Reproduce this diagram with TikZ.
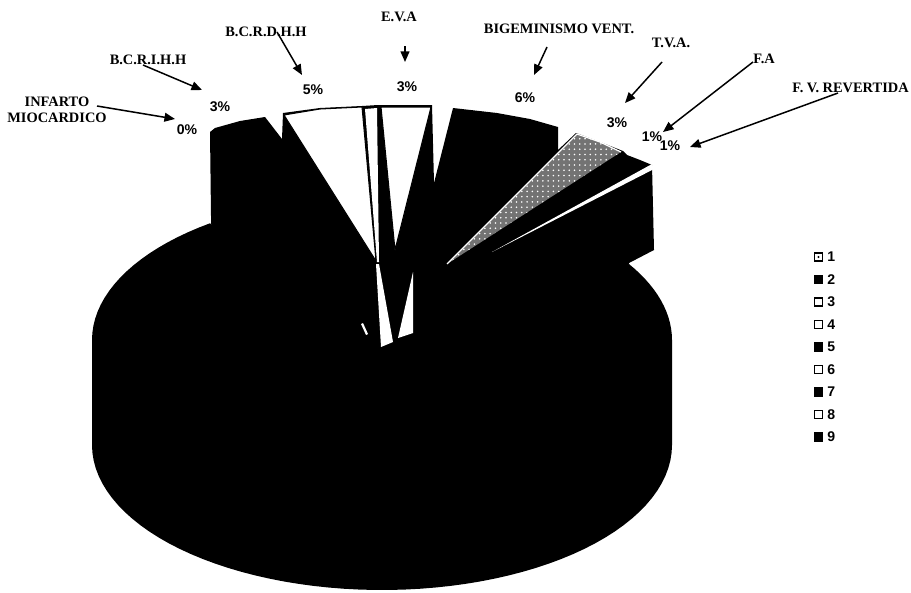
\documentclass[tikz,border=0pt]{standalone}
\usepackage{fontspec}
\setmainfont{Liberation Serif}
\newfontfamily\pctfont{Liberation Sans}
\usetikzlibrary{arrows.meta,patterns}

\begin{document}
\begin{tikzpicture}[x=0.02cm,y=-0.02cm,
  lbl/.style={font=\bfseries\fontsize{8.2}{9.1}\selectfont,inner sep=0pt},
  pct/.style={font=\pctfont\bfseries\fontsize{8}{9}\selectfont,inner sep=0pt},
  ptr/.style={line width=0.85pt,-{Triangle[length=6pt,width=5pt]}},
  legbox/.style={draw,line width=0.7pt,minimum size=4.6pt,inner sep=0pt}]
\useasboundingbox (0,0) rectangle (911,592);
\fill (672,340) -- (672,445) -- plot[domain=0:180,samples=60] ({382+290*cos(\x)},{445+145*sin(\x)}) -- (92,340) -- plot[domain=180:233.6,samples=20] ({382+290*cos(\x)},{340+145*sin(\x)}) -- (382,340) -- plot[domain=328.4:360,samples=15] ({382+290*cos(\x)},{340+145*sin(\x)}) -- cycle;
\fill (211,216) -- (210,132) -- (215,128) -- (240,121) -- (265,117) -- (282,139) -- (283,113) -- (320,108) -- (362,106) -- (378,105) -- (432,105) -- (434,183) -- (453,108) -- (497,113) -- (530,119) -- (558,127) -- (558,150) -- (576,133) -- (600,142) -- (623,151) -- (627,155) -- (640,160) -- (652,165) -- (654,250) -- (629,263) -- (620,290) -- (382,380) -- (225,245) -- (211,224) -- cycle;
\draw[fill=white,line width=0.6pt] (284,115) -- (320,109) -- (362,107) -- (376,261) -- cycle;
\fill[white] (365,109) -- (377,108) -- (379,262) -- (377,262) -- cycle;
\fill[white] (376,264) -- (379,264) -- (393,342) -- (381,347) -- cycle;
\draw[fill=white,line width=0.6pt] (381,107) -- (431,107) -- (395,250) -- cycle;
\fill[white] (413,272) -- (413,333) -- (398,338) -- cycle;
\fill[white] (361,324) -- (363,323) -- (368,334) -- (366,335) -- cycle;
\fill[black!55] (577,134) -- (600,142) -- (621,152) -- (447,264) -- cycle;
\fill[pattern=dots,pattern color=white] (577,134) -- (600,142) -- (621,152) -- (447,264) -- cycle;
\draw[white,line width=0.7pt] (447,264) -- (577,134) -- (600,142) -- (621,152);
\fill[white] (652,164) -- (654,169) -- (492,252) -- cycle;

\node[lbl,align=center] (infarto) at (57,110) {INFARTO\\MIOCARDICO};
\node[lbl] (bcrih) at (148,60) {B.C.R.I.H.H};
\node[lbl] (bcrdh) at (266,32) {B.C.R.D.H.H};
\node[lbl] (eva) at (399,17) {E.V.A};
\node[lbl] (bigem) at (559,29) {BIGEMINISMO VENT.};
\node[lbl] (tva) at (671,43) {T.V.A.};
\node[lbl] (fa) at (764,59) {F.A};
\node[lbl,anchor=east] (fvrev) at (909,88) {F. V. REVERTIDA};

\node[pct] (p1) at (187,130) {0\%};
\node[pct] (p2) at (220,107) {3\%};
\node[pct] (p3) at (313,90) {5\%};
\node[pct] (p4) at (407,87) {3\%};
\node[pct] (p5) at (525,98) {6\%};
\node[pct] (p6) at (617,123) {3\%};
\node[pct] (p7) at (652,137) {1\%};
\node[pct] (p8) at (670,146) {1\%};

\coordinate (infarto-t) at (97,106);   \coordinate (infarto-h) at (175,119);
\coordinate (bcrih-t) at (143,65);     \coordinate (bcrih-h) at (202,90);
\coordinate (bcrdh-t) at (277,32);     \coordinate (bcrdh-h) at (302,75);
\coordinate (eva-t) at (405,46);       \coordinate (eva-h) at (405,62);
\coordinate (bigem-t) at (547,47);     \coordinate (bigem-h) at (534,75);
\coordinate (tva-t) at (662,62);       \coordinate (tva-h) at (625,103);
\coordinate (fa-t) at (753,62);        \coordinate (fa-h) at (663,132);
\coordinate (fvrev-t) at (838,93);     \coordinate (fvrev-h) at (690,147);
\draw[ptr] (infarto-t) -- (infarto-h);
\draw[ptr] (bcrih-t) -- (bcrih-h);
\draw[ptr] (bcrdh-t) -- (bcrdh-h);
\draw[ptr] (eva-t) -- (eva-h);
\draw[ptr] (bigem-t) -- (bigem-h);
\draw[ptr] (tva-t) -- (tva-h);
\draw[ptr] (fa-t) -- (fa-h);
\draw[ptr] (fvrev-t) -- (fvrev-h);

\foreach \c [count=\i] in {white,black,white,white,black,white,black,white,black} {
  \node[legbox,fill=\c] (box\i) at (818.5,{257+22.5*(\i-1)}) {};
  \node[pct,anchor=west] (num\i) at (827,{257+22.5*(\i-1)}) {\i};
}
\fill (box1.center) circle (1.2);
\end{tikzpicture}
\end{document}
